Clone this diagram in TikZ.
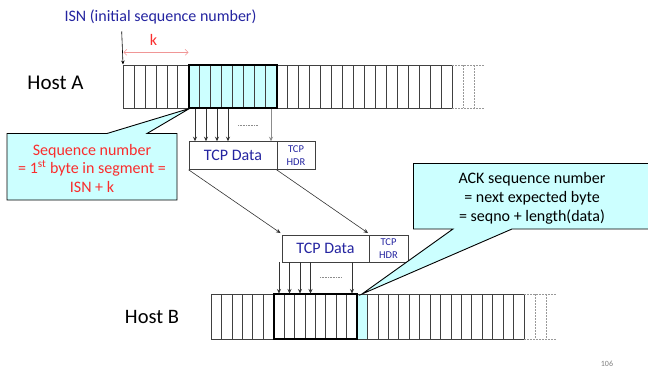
\documentclass[tikz,border=0pt]{standalone}
\usepackage{fontspec}
\setmainfont{Carlito}
\usetikzlibrary{arrows.meta}
\definecolor{navy}{RGB}{36,36,160}
\definecolor{redtxt}{RGB}{250,45,45}
\definecolor{lcyan}{RGB}{204,255,255}
\definecolor{pinkarr}{RGB}{240,150,150}
\begin{document}
\begin{tikzpicture}[x=1pt,y=-1pt,
  cell/.style={draw=black!75,line width=0.7pt},
  ghost/.style={draw=black!40,line width=0.6pt,dash pattern=on 1.5pt off 1.5pt},
  bold/.style={draw=black,line width=1.8pt},
  pkt/.style={draw=black!75,line width=0.9pt,inner sep=0pt,text=navy},
  arr/.style={draw=black!80,line width=0.6pt,-{Stealth[length=4.5pt,width=4pt]}},
  callout/.style={draw=black,line width=0.9pt,fill=lcyan},
  lbl/.style={inner sep=0pt}]
\useasboundingbox (0,0) rectangle (648,372);
% ---------- Host A bar
\fill[lcyan] (189,65) rectangle (277,108);
\foreach \i in {0,...,30} \draw[cell] ({123+\i*10.967},65) -- ++(0,43);
\draw[cell] (123,65) -- (452,65) (123,108) -- (452,108);
\draw[ghost] (452,65) -- (484,65) (452,108) -- (484,108) (463,65) -- (463,108) (474,65) -- (474,108);
\draw[bold] (189,65) rectangle (277,108);
% ---------- Host B bar
\fill[lcyan] (357.1,294) rectangle (367.5,339);
\foreach \i in {0,...,30} \draw[cell] ({211+\i*10.433},294) -- ++(0,45);
\draw[cell] (211,294) -- (524,294) (211,339) -- (524,339);
\draw[ghost] (524,294) -- (556,294) (524,339) -- (556,339) (535,294) -- (535,339) (546,294) -- (546,339);
\draw[bold] (273.6,294) rectangle (357.1,339);
% ---------- labels
\node[lbl,font=\fontsize{21}{24}\selectfont] (hA) at (55.5,83) {Host A};
\node[lbl,font=\fontsize{20.5}{24}\selectfont] (hB) at (152,317) {Host B};
\node[lbl,text=navy,font=\fontsize{16}{19}\selectfont] (isn) at (160.5,17) {ISN (initial sequence number)};
\coordinate (isnTop) at (121.7,31.5);
\coordinate (isnEnd) at (123,64.5);
\draw[draw=black,line width=0.6pt,-{Stealth[length=4pt,width=3.5pt]}] (isnTop) -- (isnEnd);
\node[lbl,text=redtxt,font=\fontsize{16}{19}\selectfont] (k) at (153.5,39.5) {k};
\coordinate (kL) at (123.5,52.3);
\coordinate (kR) at (188.5,52.3);
\draw[draw=pinkarr,line width=0.5pt,{Straight Barb[length=3pt,width=6pt]}-{Straight Barb[length=3pt,width=6pt]}] (kL) -- (kR);
% ---------- packets
\node[pkt,minimum width=88pt,minimum height=27.6pt,font=\fontsize{16}{19}\selectfont] (d1) at (233,155.5) {TCP Data\hspace{9pt}};
\node[pkt,minimum width=38pt,minimum height=27.6pt,align=center,font=\fontsize{10.5}{12.7}\selectfont] (h1) at (296,155.5) {TCP\\HDR};
\node[pkt,minimum width=87pt,minimum height=27pt,font=\fontsize{16}{19}\selectfont] (d2) at (325.5,248.5) {TCP Data\hspace{18pt}};
\node[pkt,minimum width=39pt,minimum height=27pt,align=center,font=\fontsize{10.5}{12.7}\selectfont] (h2) at (388.5,248.5) {TCP\\HDR};
% arrows Host A -> packet 1
\foreach \x/\n in {195/a1,206/a2,217/a3,228/a4} {
  \coordinate (\n) at (\x,108.5);
  \draw[arr] (\n) -- (\n |- d1.north);
}
\coordinate (a5) at (271,108.5);
\draw[arr,draw=black!45] (a5) -- (a5 |- d1.north);
\draw[draw=black!45,line width=0.5pt,dash pattern=on 1pt off 0.6pt] (238,125) -- (258,125);
% packet 1 -> packet 2
\draw[arr] (d1.south west) -- ([xshift=-1pt,yshift=1.5pt]d2.north west);
\draw[arr] (h1.south west) -- ([xshift=-0.5pt,yshift=1.5pt]h2.north west);
% packet 2 -> Host B
\foreach \x/\n in {279/b1,289.5/b2,300/b3,310.5/b4,352/b5} {
  \coordinate (\n) at (\x,293.5);
  \draw[arr] (\n |- d2.south) -- (\n);
}
\draw[draw=black!45,line width=0.5pt,dash pattern=on 1pt off 0.6pt] (320,277.5) -- (341,277.5);
% ---------- callouts
\draw[callout] (7,133.5) -- (107,133.5) -- (189.5,108.5) -- (147,133.5) -- (177,133.5) -- (177,200) -- (7,200) -- cycle;
\node[lbl,text=redtxt,align=center,font=\fontsize{16}{18.5}\selectfont] (c1) at (92,168) {Sequence number\\= 1\textsuperscript{st} byte in segment =\\ISN + k};
\draw[callout] (413.5,163.5) -- (652,163.5) -- (652,229) -- (512,229) -- (362,294) -- (453,229) -- (413.5,229) -- cycle;
\node[lbl,align=center,font=\fontsize{16}{19}\selectfont] (c2) at (532,198) {ACK sequence number\\= next expected byte\\= seqno + length(data)};
% page number
\node[lbl,text=black!50,font=\fontsize{8}{9}\selectfont] (pg) at (607,364) {106};
\end{tikzpicture}
\end{document}
